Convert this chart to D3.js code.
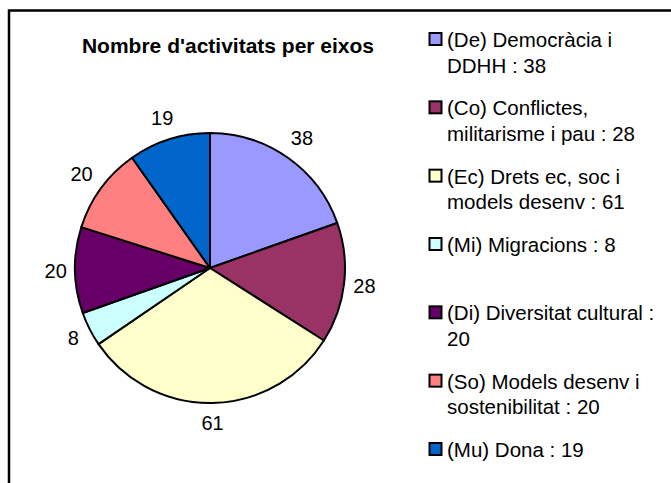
<html>
<head>
  <meta charset="utf-8">
  <title>Nombre d'activitats per eixos</title>
  <script src="https://d3js.org/d3.v7.min.js"></script>
  <style>
    body { margin: 0; background: #fff; }
    text { font-family: "Liberation Sans", Arial, sans-serif; fill: #000; }
  </style>
</head>
<body>
  <div id="chart"></div>

  <script type="text/javascript">

    // Chart data
    var codes = ['De', 'Co', 'Ec', 'Mi', 'Di', 'So', 'Mu'];
    var values = [38, 28, 61, 8, 20, 20, 19];
    var legend_lines = [
      ['(De) Democràcia i', 'DDHH : 38'],
      ['(Co) Conflictes,', 'militarisme i pau : 28'],
      ['(Ec) Drets ec, soc i', 'models desenv : 61'],
      ['(Mi) Migracions : 8'],
      ['(Di) Diversitat cultural :', '20'],
      ['(So) Models desenv i', 'sostenibilitat : 20'],
      ['(Mu) Dona : 19']
    ];
    var colours = ['#9999FF', '#993366', '#FFFFCC', '#CCFFFF', '#660066', '#FF8080', '#0066CC'];
    var title = "Nombre d'activitats per eixos";

    var width = 671;
    var height = 483;

    // Pie geometry
    var cx = 210, cy = 268, radius = 135;
    var label_gap = 8;       // space between rim and label box
    var label_half_h = 12;   // half height of a label box

    var color = d3.scaleOrdinal().domain(codes).range(colours);

    var svg = d3.select('#chart')
                .append('svg')
                  .attr('width', width)
                  .attr('height', height);

    // Outer frame (runs off the right and bottom edges)
    svg.append('rect')
         .attr('x', 9)
         .attr('y', 10.5)
         .attr('width', 700)
         .attr('height', 520)
         .style('fill', 'none')
         .style('stroke', '#000')
         .style('stroke-width', 2.5);

    svg.append('text')
         .text(title)
         .attr('x', 228)
         .attr('y', 53)
         .attr('text-anchor', 'middle')
         .style('font-weight', 'bold')
         .style('font-size', '21px');

    var data = codes.map(function(c, i) { return {code: c, value: values[i]}; });

    var pie = d3.pie()
                .sort(null)
                .value(function(d) { return d.value; });

    var arc = d3.arc().innerRadius(0).outerRadius(radius);

    var g = svg.append('g')
               .attr('transform', 'translate(' + cx + ',' + cy + ')');

    var arcs = pie(data);

    g.selectAll('path.slice')
       .data(arcs)
       .enter()
       .append('path')
         .attr('class', 'slice')
         .attr('d', arc)
         .style('fill', function(d) { return color(d.data.code); })
         .style('stroke', '#000')
         .style('stroke-width', 2)
         .style('stroke-linejoin', 'round');

    // Value labels sit just outside the rim, pushed out by their own box size
    g.selectAll('text.value')
       .data(arcs)
       .enter()
       .append('text')
         .attr('class', 'value')
         .attr('text-anchor', 'middle')
         .attr('dy', '0.36em')
         .style('font-size', '20px')
         .text(function(d) { return d.data.value; })
         .each(function(d) {
           var a = (d.startAngle + d.endAngle) / 2;
           var sx = Math.sin(a), sy = -Math.cos(a);
           var half_w = this.getComputedTextLength() / 2;
           var ext = Math.abs(sx) * half_w + Math.abs(sy) * label_half_h;
           var dist = radius + label_gap + ext;
           d3.select(this).attr('transform', 'translate(' + (sx * dist) + ',' + (sy * dist) + ')');
         });

    // Legend
    var legend = svg.append('g')
                    .attr('transform', 'translate(429,47)');

    var entry_y = d3.scaleLinear().domain([0, codes.length - 1]).range([0, 410]);

    var entries = legend.selectAll('g.entry')
                        .data(codes)
                        .enter()
                        .append('g')
                          .attr('class', 'entry')
                          .attr('transform', function(d, i) { return 'translate(0,' + entry_y(i) + ')'; });

    entries.append('rect')
             .attr('x', 0.5)
             .attr('y', -14)
             .attr('width', 12)
             .attr('height', 12)
             .style('fill', function(d) { return color(d); })
             .style('stroke', '#000')
             .style('stroke-width', 2);

    entries.each(function(d, i) {
      var t = d3.select(this).append('text')
                .attr('x', 18)
                .attr('y', 0)
                .style('font-size', '20.5px');
      legend_lines[i].forEach(function(line, j) {
        t.append('tspan')
           .attr('x', 18)
           .attr('y', j * 25.5)
           .text(line);
      });
    });

  </script>
</body>
</html>
